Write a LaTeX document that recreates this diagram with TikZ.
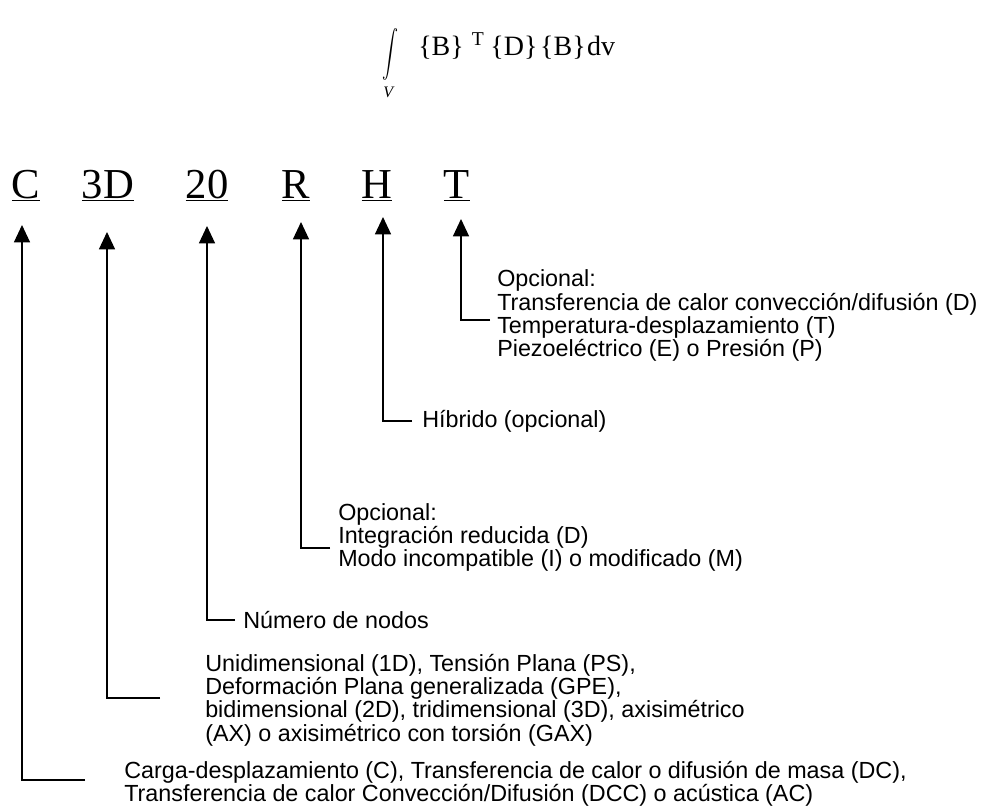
\documentclass[tikz,border=0pt]{standalone}
\usepackage{fontspec}
\usepackage{graphicx}
\setmainfont{Liberation Serif}
\setsansfont{Liberation Sans}
\usetikzlibrary{arrows.meta}
\tikzset{
  letra/.style={anchor=base, inner sep=0pt, font=\fontsize{32}{38}\selectfont},
  nota/.style={anchor=west, inner sep=0pt, align=left, font=\sffamily\fontsize{17.5}{16}\selectfont},
  flecha/.style={line width=1pt, -{Triangle[width=12pt,length=13pt]}},
}

\begin{document}
\begin{tikzpicture}[x=0.75pt,y=-0.75pt]
    \useasboundingbox (0,0) rectangle (987,810);
    % Formula
    \node[inner sep=0pt] (integ) at (390,54) {\scalebox{1.2}[1.75]{$\displaystyle\int$}};
    \node[inner sep=0pt, font=\fontsize{12}{12}\selectfont] (vol) at (389,92) {\textit{V}};
    \node[anchor=west, inner sep=0pt, font=\fontsize{21}{24}\selectfont] (formula) at (418,46) {\{B\}\hspace{6pt}\textsuperscript{T}\hspace{4.5pt}\{D\}\hspace{2pt}\{B\}\hspace{1pt}dv};
    % Element name
    \node[letra] (lC) at (26,198) {\underline{C}};
    \node[letra] (l3D) at (108,198) {\underline{3D}};
    \node[letra] (l20) at (207,198) {\underline{20}};
    \node[letra] (lR) at (296,198) {\underline{R}};
    \node[letra] (lH) at (377,198) {\underline{H}};
    \node[letra] (lT) at (457,198) {\underline{T}};
    % Arrow tips
    \coordinate (tC) at (22,225);
    \coordinate (t3D) at (107,232);
    \coordinate (t20) at (207,226);
    \coordinate (tR) at (301,222);
    \coordinate (tH) at (383,217);
    \coordinate (tT) at (461,219);
    % Elbows
    \coordinate (eC) at (85,780);
    \coordinate (e3D) at (160,698);
    \coordinate (e20) at (235,620);
    \coordinate (eR) at (330,548);
    \coordinate (eH) at (412,421);
    \coordinate (eT) at (490,320);
    % Descriptions
    \node[nota] (dT) at (497,315.5) {Opcional:\\Transferencia de calor convección/difusión (D)\\Temperatura-desplazamiento (T)\\Piezoeléctrico (E) o Presión (P)};
    \node[nota] (dH) at (422,421) {Híbrido (opcional)};
    \node[nota] (dR) at (338,537.5) {Opcional:\\Integración reducida (D)\\Modo incompatible (I) o modificado (M)};
    \node[nota] (d20) at (243,620) {Número de nodos};
    \node[nota] (d3D) at (205,700) {Unidimensional (1D), Tensión Plana (PS),\\Deformación Plana generalizada (GPE),\\bidimensional (2D), tridimensional (3D), axisimétrico\\(AX) o axisimétrico con torsión (GAX)};
    \node[nota] (dC) at (124,783.5) {Carga-desplazamiento (C), Transferencia de calor o difusión de masa (DC),\\Transferencia de calor Convección/Difusión (DCC) o acústica (AC)};
    % Connectors
    \draw[flecha] (eC) -| (tC);
    \draw[flecha] (e3D) -| (t3D);
    \draw[flecha] (e20) -| (t20);
    \draw[flecha] (eR) -| (tR);
    \draw[flecha] (eH) -| (tH);
    \draw[flecha] (eT) -| (tT);
\end{tikzpicture}
\end{document}
